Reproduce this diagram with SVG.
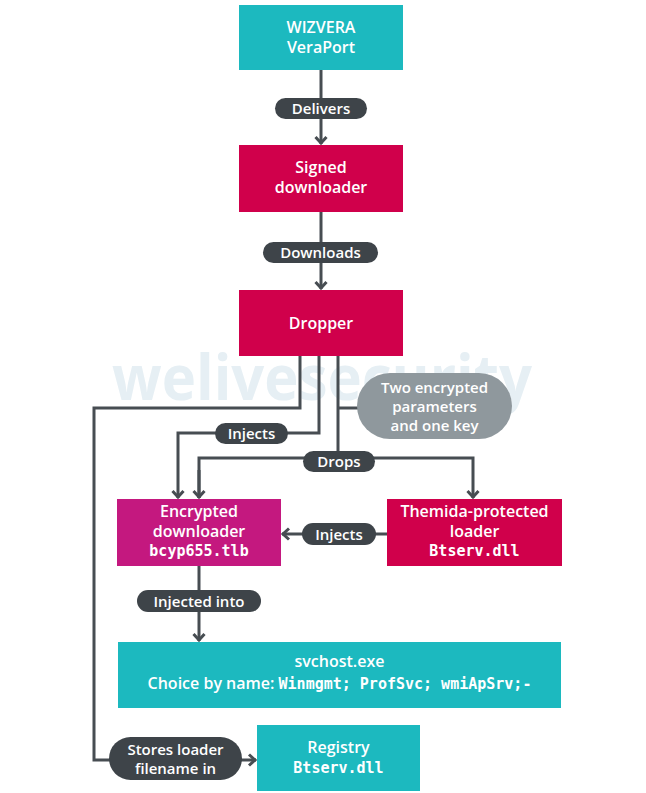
<svg xmlns="http://www.w3.org/2000/svg" width="646" height="793" viewBox="0 0 646 793">
<defs>
<style>
.cyan{fill:#1cb9bf}
.red{fill:#d0004b}
.mag{fill:#c4187f}
.pill{fill:#3e4449}
.gpill{fill:#8f989d}
.t{font-family:"Open Sans","Liberation Sans",sans-serif;font-weight:600;font-size:16px;fill:#ffffff;text-anchor:middle}
.p{font-family:"Open Sans","Liberation Sans",sans-serif;font-weight:600;font-size:15px;fill:#ffffff;text-anchor:middle}
.g{font-family:"Open Sans","Liberation Sans",sans-serif;font-weight:600;font-size:15px;fill:#ffffff;text-anchor:middle}
.m{font-family:"DejaVu Sans Mono","Liberation Mono",monospace;font-weight:bold;font-size:15px}
.ln{fill:none;stroke:#474d52;stroke-width:3}
.wm{font-family:"Open Sans","Liberation Sans",sans-serif;font-weight:700;font-size:62px;fill:#e6eff4}
</style>
<marker id="ah" markerUnits="userSpaceOnUse" markerWidth="14" markerHeight="14" viewBox="0 0 14 14" refX="11" refY="7" orient="auto">
<path d="M4,1.5 L10,7 L4,12.5" fill="none" stroke="#474d52" stroke-width="3"/>
</marker>
</defs>
<rect width="646" height="793" fill="#ffffff"/>
<text class="wm" x="112" y="400" textLength="420" lengthAdjust="spacingAndGlyphs">welivesecurity</text>

<g id="connectors">
<path class="ln" d="M321,70 V144" marker-end="url(#ah)"/>
<path class="ln" d="M321,212 V289" marker-end="url(#ah)"/>
<path class="ln" d="M300,356 V408 H94 V760 H256" marker-end="url(#ah)"/>
<path class="ln" d="M319,356 V433 H178 V498" marker-end="url(#ah)"/>
<path class="ln" d="M338,356 V458"/>
<path class="ln" d="M338,408 H360"/>
<path class="ln" d="M199,498 V458 H473 V498" marker-end="url(#ah)"/>
<path class="ln" d="M199,470 V498" marker-end="url(#ah)"/>
<path class="ln" d="M387,534 H282" marker-end="url(#ah)"/>
<path class="ln" d="M199,566 V641" marker-end="url(#ah)"/>
<g id="label-delivers"><rect class="pill" x="275" y="98" width="92" height="21" rx="10.5"/><text class="p" x="321" y="114">Delivers</text></g>
<g id="label-downloads"><rect class="pill" x="263" y="242" width="115" height="21" rx="10.5"/><text class="p" x="320.5" y="258">Downloads</text></g>
<g id="label-injects1"><rect class="pill" x="215" y="423" width="73" height="21" rx="10.5"/><text class="p" x="251.5" y="439">Injects</text></g>
<g id="label-drops"><rect class="pill" x="303" y="451" width="72" height="21" rx="10.5"/><text class="p" x="339" y="467">Drops</text></g>
<g id="label-injects2"><rect class="pill" x="302" y="523" width="74" height="22" rx="11"/><text class="p" x="339" y="539.5">Injects</text></g>
<g id="label-injected-into"><rect class="pill" x="137" y="590" width="124" height="22" rx="11"/><text class="p" x="199" y="606.5">Injected into</text></g>
<g id="label-stores"><rect class="pill" x="109" y="737" width="133" height="43" rx="21.5"/><text class="p" x="175.5" y="755">Stores loader</text><text class="p" x="175.5" y="774">filename in</text></g>
<g id="label-params"><rect class="gpill" x="357" y="373" width="155" height="66" rx="33"/><text class="g" x="434.5" y="393">Two encrypted</text><text class="g" x="434.5" y="412">parameters</text><text class="g" x="434.5" y="431">and one key</text></g>
</g>

<g id="node-wizvera"><rect class="cyan" x="239" y="5" width="164" height="65"/><text class="t" x="321" y="33">WIZVERA</text><text class="t" x="321" y="53">VeraPort</text></g>
<g id="node-signed"><rect class="red" x="239" y="145" width="164" height="67"/><text class="t" x="321" y="173">Signed</text><text class="t" x="321" y="193">downloader</text></g>
<g id="node-dropper"><rect class="red" x="239" y="290" width="164" height="66"/><text class="t" x="321" y="329">Dropper</text></g>
<g id="node-encrypted"><rect class="mag" x="117" y="499" width="164" height="67"/><text class="t" x="199" y="517">Encrypted</text><text class="t" x="199" y="537">downloader</text><text class="t m" x="199" y="556">bcyp655.tlb</text></g>
<g id="node-themida"><rect class="red" x="387" y="499" width="175" height="67"/><text class="t" x="474.5" y="517">Themida-protected</text><text class="t" x="474.5" y="537">loader</text><text class="t m" x="474.5" y="556">Btserv.dll</text></g>
<g id="node-svchost"><rect class="cyan" x="118" y="642" width="443" height="66"/><text class="t" x="339.5" y="667">svchost.exe</text><text class="t" x="339.5" y="689">Choice by name: <tspan class="m">Winmgmt; ProfSvc; wmiApSrv;-</tspan></text></g>
<g id="node-registry"><rect class="cyan" x="257" y="725" width="163" height="66"/><text class="t" x="338.5" y="753">Registry</text><text class="t m" x="338.5" y="773">Btserv.dll</text></g>
</svg>
